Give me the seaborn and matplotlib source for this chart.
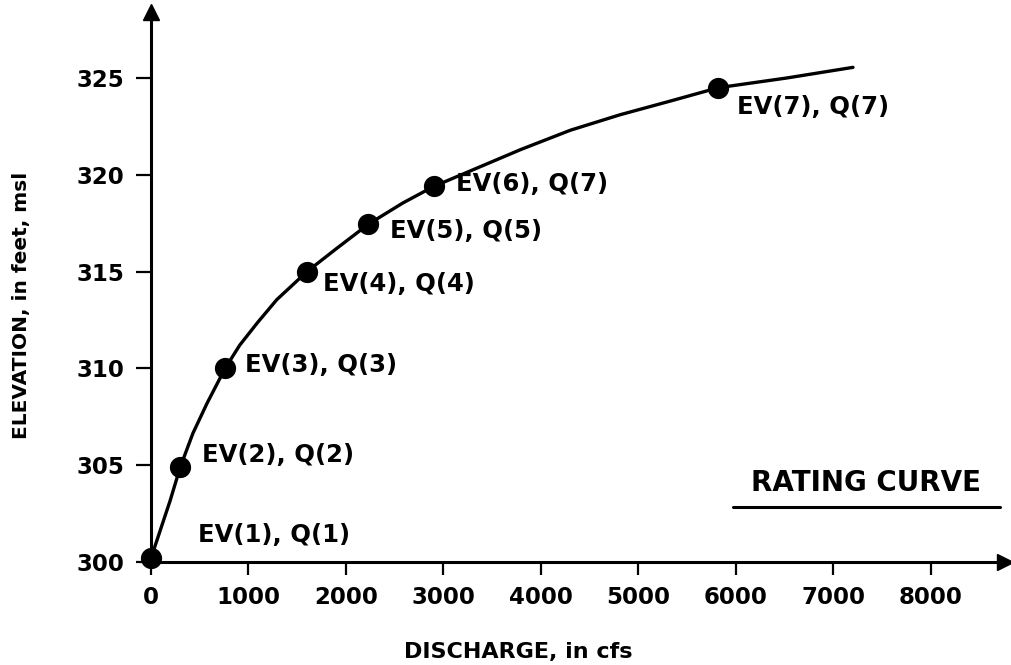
import numpy as np
import pandas as pd
import matplotlib
matplotlib.use('Agg')
import matplotlib.pyplot as plt
import seaborn as sns

##################################################################
# rating curve points
point_labels = ['EV(1), Q(1)', 'EV(2), Q(2)', 'EV(3), Q(3)', 'EV(4), Q(4)',
                'EV(5), Q(5)', 'EV(6), Q(7)', 'EV(7), Q(7)']
point_q = [0, 300, 760, 1600, 2230, 2900, 5820]
point_ev = [300.2, 304.9, 310.0, 315.0, 317.45, 319.4, 324.5]

# traced curve (dots + points)
curve_q = [0, 195, 300, 430, 575, 760, 910, 1090, 1290, 1600, 1905, 2230,
           2585, 2900, 3790, 4300, 4810, 5320, 5820, 6520, 7200]
curve_ev = [300.2, 303.15, 304.9, 306.65, 308.2, 310.0, 311.2, 312.35, 313.55,
            315.0, 316.2, 317.45, 318.55, 319.4, 321.3, 322.3, 323.1, 323.8, 324.5,
            325.0, 325.55]

x_ticks = [0, 1000, 2000, 3000, 4000, 5000, 6000, 7000, 8000]
y_ticks = [300, 305, 310, 315, 320, 325]
##################################################################

sns.set_style('ticks')
plt.rcParams['font.family'] = ['DejaVu Sans']
plt.rcParams['font.weight'] = 'bold'
for k in ['text.color', 'axes.labelcolor', 'xtick.color', 'ytick.color', 'axes.edgecolor']:
    plt.rcParams[k] = 'k'

fig = plt.figure(figsize=[10.12, 6.65], dpi=100)
ax = fig.add_axes([151/1012, 103/665, (1005-151)/1012, (562-12)/665])

df_curve = pd.DataFrame({'Q': curve_q, 'EV': curve_ev})
df_pts = pd.DataFrame({'Q': point_q, 'EV': point_ev, 'lab': point_labels})

sns.lineplot(data=df_curve, x='Q', y='EV', ax=ax, color='k', lw=2.4,
             sort=False, estimator=None, clip_on=False)
sns.scatterplot(data=df_pts, x='Q', y='EV', ax=ax, color='k', s=200,
                edgecolor='k', zorder=5, clip_on=False)

offsets = [(47, 23), (22, 12), (20, 3), (16, -12), (22, -7), (22, 2), (19, -19)]
for i, lab in enumerate(point_labels):
    ax.annotate(lab, (point_q[i], point_ev[i]), xytext=offsets[i],
                textcoords='offset pixels', ha='left', va='center',
                fontsize=17.5, fontweight='bold')

ax.set_xlim(0, (1005-151)/0.0975)
ax.set_ylim(300, 300 + (562-12)/19.36)
ax.set_xticks(x_ticks)
ax.set_yticks(y_ticks)
ax.tick_params(axis='both', direction='out', width=1.6, labelsize=16.5, pad=8)
ax.tick_params(axis='y', length=11)
ax.tick_params(axis='x', length=9)
for t in ax.get_xticklabels() + ax.get_yticklabels():
    t.set_fontweight('bold')

for side in ['top', 'right']:
    ax.spines[side].set_visible(False)
for side in ['left', 'bottom']:
    ax.spines[side].set_linewidth(2.2)

# axis arrows
ax.plot(1, 0, '>k', ms=11, transform=ax.transAxes, clip_on=False)
ax.plot(0, 1, '^k', ms=11, transform=ax.transAxes, clip_on=False)

ax.set_xlabel('DISCHARGE, in cfs', fontsize=16, fontweight='bold')
ax.set_ylabel('ELEVATION, in feet, msl', fontsize=14.5, fontweight='bold')
ax.xaxis.set_label_coords((518-151)/854, (562-652)/550)
ax.yaxis.set_label_coords((22-151)/854, (562-305)/550)
ax.xaxis.label.set_va('center')
ax.yaxis.label.set_va('center')

fig.text(866/1012, 1 - 483/665, 'RATING CURVE', ha='center', va='center',
         fontsize=20, fontweight='bold')
fig.add_artist(plt.Line2D([733/1012, 1000/1012], [1 - 507/665, 1 - 507/665],
                          color='k', lw=2.2))

plt.savefig('out.png', dpi=100)
